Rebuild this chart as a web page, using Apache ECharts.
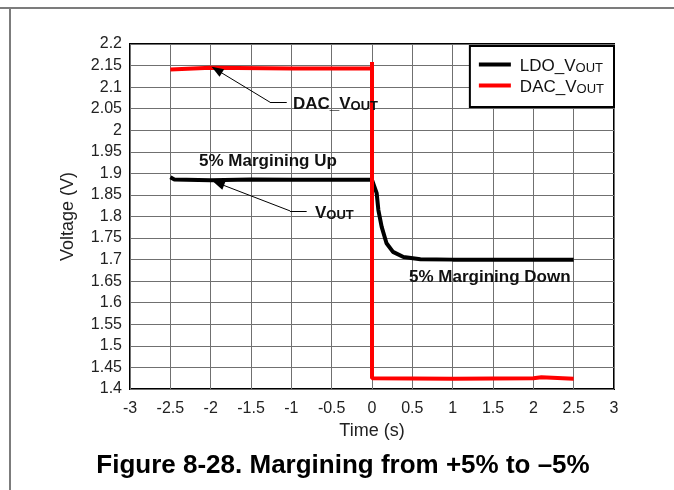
<!DOCTYPE html>
<html><head><meta charset="utf-8">
<script src="https://cdn.jsdelivr.net/npm/echarts@6/dist/echarts.min.js"></script>
<style>html,body{margin:0;padding:0;background:#fff}#c{width:674px;height:490px}</style>
</head><body><div id="c"></div>
<script>
// Time (s) and voltage (V) values
var ldoTime = [-2.5, -2.45, -2.0, -1.5, -1.0, -0.5, 0.0, 0.017, 0.058, 0.079, 0.12, 0.18, 0.26, 0.39, 0.6, 1.0, 1.5, 2.0, 2.5];
var ldoVolt = [1.891, 1.886, 1.884, 1.886, 1.885, 1.885, 1.885, 1.883, 1.854, 1.815, 1.776, 1.738, 1.718, 1.706, 1.701, 1.700, 1.700, 1.700, 1.700];
var dacTime = [-2.5, -2.0, -1.0, 0.0, 0.0, 0.0, 0.02, 1.0, 2.0, 2.1, 2.5];
var dacVolt = [2.141, 2.145, 2.143, 2.143, 2.158, 1.425, 1.425, 1.424, 1.425, 1.427, 1.424];
var seriesNames = ['LDO_V', 'DAC_V'];
var xTicks = {min: -3, max: 3, step: 0.5};
var yTicks = {min: 1.4, max: 2.2, step: 0.05};
// annotation anchor points in data coordinates
var dacArrow = [[-1.925, 2.140], [-1.264, 2.065], [-1.057, 2.065]];
var voutArrow = [[-1.905, 1.877], [-1.016, 1.813], [-0.81, 1.813]];
var dacLabelPos = [-0.98, 2.063];
var voutLabelPos = [-0.707, 1.811];
var upLabelPos = [-1.29, 1.927];
var downLabelPos = [1.46, 1.660];

function zip(a, b) { return a.map(function (v, i) { return [v, b[i]]; }); }
var FONT = '"Liberation Sans", Arial, sans-serif';
var chart = echarts.init(document.getElementById('c'), null, {renderer: 'canvas'});

function arrowLines(pts) {
  return [
    [{coord: pts[0], symbol: 'triangle', symbolSize: [9, 12]}, {coord: pts[1], symbol: 'none'}],
    [{coord: pts[1], symbol: 'none'}, {coord: pts[2], symbol: 'none'}]
  ];
}

var option = {
  animation: false,
  grid: {left: 130, right: 60, top: 44, bottom: 101, show: true, borderColor: '#000', borderWidth: 2, backgroundColor: 'transparent'},
  xAxis: {
    type: 'value', min: xTicks.min, max: xTicks.max, interval: xTicks.step,
    name: 'Time (s)', nameLocation: 'middle', nameGap: 33,
    nameTextStyle: {fontFamily: FONT, fontSize: 18, color: '#222'},
    axisLine: {show: false}, axisTick: {show: false},
    axisLabel: {fontFamily: FONT, fontSize: 16, color: '#222', margin: 12},
    splitLine: {show: true, lineStyle: {color: '#707070', width: 1}}
  },
  yAxis: {
    type: 'value', min: yTicks.min, max: yTicks.max, interval: yTicks.step,
    name: 'Voltage (V)', nameLocation: 'middle', nameGap: 53,
    nameTextStyle: {fontFamily: FONT, fontSize: 18, color: '#222'},
    axisLine: {show: false}, axisTick: {show: false},
    axisLabel: {fontFamily: FONT, fontSize: 16, color: '#222', margin: 8},
    splitLine: {show: true, lineStyle: {color: '#707070', width: 1}}
  },
  legend: {
    orient: 'vertical', right: 60, top: 46, width: 140,
    backgroundColor: '#fff', borderColor: '#000', borderWidth: 2,
    padding: [12, 10, 11, 9], itemGap: 4,
    icon: 'rect', itemWidth: 32, itemHeight: 4,
    data: seriesNames,
    formatter: function (n) { return '{a|' + n + '}{b|OUT}'; },
    textStyle: {
      fontFamily: FONT, color: '#111', padding: [0, 0, 0, 4],
      rich: {
        a: {fontFamily: FONT, fontSize: 17, color: '#111', verticalAlign: 'bottom', lineHeight: 21},
        b: {fontFamily: FONT, fontSize: 13, color: '#111', verticalAlign: 'bottom', lineHeight: 16}
      }
    }
  },
  series: [
    {
      name: seriesNames[0], type: 'line', data: zip(ldoTime, ldoVolt), showSymbol: false, smooth: false,
      lineStyle: {color: '#000', width: 4}, itemStyle: {color: '#000'}, z: 3,
      markLine: {
        silent: true, animation: false, label: {show: false},
        lineStyle: {color: '#000', width: 1, type: 'solid'},
        data: arrowLines(dacArrow).concat(arrowLines(voutArrow))
      }
    },
    {
      name: seriesNames[1], type: 'line', data: zip(dacTime, dacVolt), showSymbol: false,
      lineStyle: {color: '#ff0000', width: 4}, itemStyle: {color: '#ff0000'}, z: 4
    }
  ],
  graphic: [
    {type: 'rect', shape: {x: 0, y: 7, width: 674, height: 2}, style: {fill: '#7c7c7c'}, z: 100},
    {type: 'rect', shape: {x: 9, y: 7, width: 2, height: 490}, style: {fill: '#7c7c7c'}, z: 100},
    {type: 'text', x: 343, y: 466, style: {text: 'Figure 8-28. Margining from +5% to \u20135%', fontFamily: FONT, fontSize: 26, fontWeight: 'bold', fill: '#000', align: 'center', verticalAlign: 'middle'}, z: 100}
  ]
};
chart.setOption(option);

function px(p) { return chart.convertToPixel({gridIndex: 0}, p); }
var bold = {fontFamily: FONT, fontWeight: 'bold', fill: '#111'};
function subText(pos, main, align) {
  var p = px(pos);
  return {
    type: 'text', x: p[0], y: p[1], z: 120,
    style: {
      text: '{m|' + main + '}{s|OUT}', align: align || 'left', verticalAlign: 'middle',
      rich: {
        m: {fontFamily: FONT, fontWeight: 'bold', fontSize: 17, fill: '#111', verticalAlign: 'bottom', lineHeight: 20},
        s: {fontFamily: FONT, fontWeight: 'bold', fontSize: 13, fill: '#111', verticalAlign: 'bottom', lineHeight: 13}
      }
    }
  };
}
function plainText(pos, txt) {
  var p = px(pos);
  return {type: 'text', x: p[0], y: p[1], z: 120,
    style: Object.assign({text: txt, fontSize: 17, align: 'center', verticalAlign: 'middle'}, bold)};
}
var extra = option.graphic.concat([
  subText(dacLabelPos, 'DAC_V'),
  subText(voutLabelPos, 'V'),
  plainText(upLabelPos, '5% Margining Up'),
  plainText(downLabelPos, '5% Margining Down')
]);
chart.setOption({graphic: extra});
</script>
</body></html>
